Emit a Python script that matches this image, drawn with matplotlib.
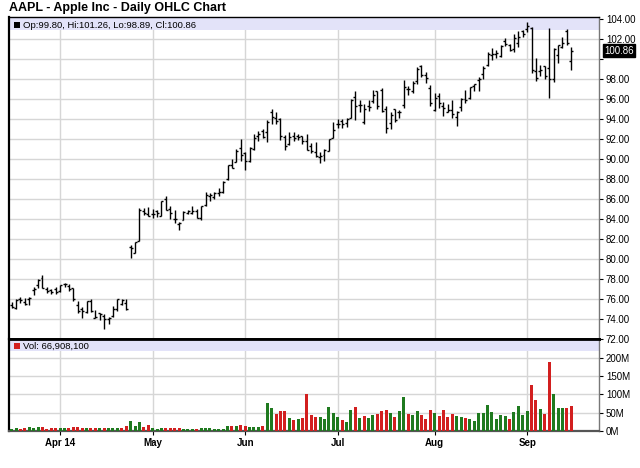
import matplotlib
matplotlib.use('Agg')
import matplotlib.pyplot as plt
from matplotlib.patches import Rectangle
from matplotlib.ticker import FixedLocator, FuncFormatter
import numpy as np
import pandas as pd

plt.rcParams['font.family'] = ['Liberation Sans', 'DejaVu Sans']

####################### Data #######################

# Trading days on the chart (exchange holidays removed)
holidays = ['2014-04-18', '2014-05-26', '2014-07-04', '2014-09-01']
days = pd.bdate_range('2014-03-17', '2014-09-16')
days = days[~days.isin(pd.to_datetime(holidays))]

opens = [75.39, 75.13, 76.04, 75.70, 75.99, 76.92, 77.36, 78.07, 77.00, 76.90, 77.03,
         76.82, 77.48, 77.34, 77.12, 75.43, 75.03, 74.66, 75.81, 74.14, 74.56, 74.32, 74.01, 74.29, 75.05, 75.47, 75.58, 81.17, 80.65, 81.83, 84.82, 84.56,
         84.52, 84.86, 84.31, 85.97, 85.04, 84.06, 83.51, 83.93, 84.57, 84.63, 84.83, 84.09, 85.41, 86.36, 86.26, 86.66, 86.75, 87.98, 89.43, 89.69, 91.14,
         90.57, 89.78, 91.06, 92.31, 92.84, 92.70, 94.73, 94.13, 94.04, 92.20, 91.51, 92.31, 92.27, 92.29, 91.85, 91.32, 90.75, 90.21, 90.37, 90.82, 92.10,
         93.52, 93.87, 93.67, 94.14, 96.27, 95.44, 93.76, 95.36, 95.86, 96.80, 96.97, 95.03, 93.62, 94.99, 94.68, 95.42, 97.04, 96.85, 97.82, 99.33, 98.44, 97.16,
         94.90, 96.37, 95.36, 94.75, 94.93, 94.26, 95.27, 96.04, 96.15, 97.33, 97.90, 98.49, 99.41, 100.44, 100.57, 100.29, 101.79, 101.42, 101.02, 101.59, 102.86,
         103.06, 103.10, 98.85, 98.80, 99.30, 99.08, 98.01, 100.41, 101.21, 102.81, 99.80]

highs = [75.71, 75.98, 76.19, 76.10, 76.25, 77.21, 77.96, 78.43, 77.25, 77.02, 77.20,
         77.41, 77.64, 77.50, 77.14, 75.84, 75.16, 75.78, 76.03, 74.93, 74.59, 74.52, 74.21, 75.35, 76.02, 76.04, 75.97, 81.43, 81.71, 85.11, 85.16, 85.21,
         84.97, 84.91, 85.86, 86.34, 85.33, 84.91, 83.75, 84.81, 84.94, 85.34, 85.05, 85.36, 86.76, 86.63, 86.67, 87.12, 87.82, 89.41, 89.98, 90.98, 92.02,
         90.69, 91.25, 92.56, 92.77, 93.04, 93.88, 95.05, 94.76, 94.12, 92.44, 92.75, 92.70, 92.55, 92.30, 92.55, 91.62, 91.74, 90.70, 91.05, 92.00, 93.73,
         94.07, 94.06, 94.10, 95.99, 96.80, 95.95, 95.55, 95.89, 96.89, 96.85, 97.10, 95.28, 94.74, 95.00, 94.89, 97.88, 97.32, 97.84, 99.24, 99.44, 98.70, 97.45,
         96.62, 96.58, 95.68, 95.48, 95.95, 94.82, 96.08, 96.88, 97.24, 97.57, 98.19, 99.37, 100.68, 101.09, 100.94, 101.47, 102.17, 101.50, 102.57, 102.78, 102.90,
         103.74, 103.20, 100.09, 99.39, 99.31, 103.08, 101.11, 101.44, 102.19, 103.05, 101.26]

lows = [75.12, 75.03, 75.56, 75.38, 75.45, 76.43, 77.08, 77.11, 76.64, 76.55, 76.53,
        76.68, 77.18, 76.81, 75.80, 74.56, 74.10, 74.57, 74.73, 74.13, 73.89, 73.05, 73.55, 74.17, 74.85, 75.43, 74.91, 80.10, 80.57, 81.79, 84.40, 84.27,
        84.11, 84.26, 84.29, 84.92, 84.00, 83.64, 82.90, 83.91, 84.50, 84.53, 84.08, 83.93, 85.33, 85.82, 86.01, 86.30, 86.64, 87.95, 89.11, 89.68, 89.84,
        88.93, 89.75, 90.87, 91.80, 92.07, 91.75, 93.57, 93.47, 91.90, 90.88, 91.45, 91.80, 91.90, 91.55, 90.90, 90.60, 90.19, 89.65, 89.80, 90.77, 92.09,
        93.13, 93.09, 93.20, 94.10, 93.92, 94.76, 93.52, 94.86, 95.65, 95.03, 94.74, 92.57, 93.02, 93.72, 94.12, 95.17, 96.42, 96.64, 97.55, 98.25, 97.67, 95.33,
        94.81, 95.17, 94.36, 94.71, 94.10, 93.28, 94.84, 95.61, 96.04, 96.80, 96.86, 97.98, 99.32, 99.95, 100.11, 100.19, 101.28, 100.86, 100.70, 101.23, 102.20,
        102.72, 98.58, 97.79, 98.31, 98.05, 96.14, 97.76, 99.62, 101.08, 101.44, 98.89]

closes = [75.25, 75.91, 75.89, 75.53, 76.12, 77.03, 77.86, 77.11, 76.78, 76.69, 76.68,
          77.38, 77.51, 76.97, 75.97, 74.78, 74.77, 75.76, 74.78, 74.23, 74.53, 73.99, 74.14, 74.99, 75.96, 75.88, 74.96, 81.11, 81.71, 84.87, 84.62, 84.30,
          84.50, 84.65, 85.85, 84.92, 84.62, 84.00, 83.65, 84.69, 84.82, 84.84, 84.12, 85.36, 86.37, 86.39, 86.62, 86.75, 87.73, 89.38, 89.14, 90.77, 90.43,
          89.81, 91.08, 92.12, 92.48, 92.22, 93.70, 94.25, 93.86, 92.29, 91.28, 92.20, 92.08, 92.18, 91.86, 90.91, 90.83, 90.28, 90.36, 90.90, 91.98, 92.93,
          93.52, 93.48, 94.03, 95.97, 95.35, 95.39, 95.04, 95.22, 96.45, 95.32, 94.78, 93.09, 94.43, 93.94, 94.72, 97.19, 97.03, 97.67, 99.02, 98.38, 98.15, 95.60,
          96.13, 95.59, 95.12, 94.96, 94.48, 94.74, 95.99, 95.97, 97.24, 97.50, 97.98, 99.16, 100.53, 100.57, 100.58, 101.32, 101.54, 100.89, 102.13, 102.25, 102.50,
          103.30, 98.94, 98.12, 98.97, 98.36, 97.99, 101.00, 101.43, 101.66, 101.63, 100.86]

prevClose = 74.96 # close of the day before the first bar

# Volume, millions of shares
volumes = [5.3, 6.7, 5.6, 6.8, 9.4, 8.9, 9.7, 9.1, 6.1, 6.8, 6.4,
           7.2, 7.1, 6.4, 9.6, 10.5, 8.0, 7.6, 8.4, 8.9, 6.8, 8.7, 7.2, 7.7, 6.8, 7.8, 12.1, 27.0, 14.0, 25.3, 11.5, 15.0,
           6.6, 6.2, 7.1, 8.6, 7.3, 7.5, 6.8, 6.0, 5.4, 5.0, 5.5, 8.0, 8.5, 6.9, 5.2, 5.5, 6.0, 12.9, 11.9, 13.5, 14.9,
           13.2, 10.4, 11.3, 10.7, 12.5, 75.4, 62.8, 45.7, 54.7, 54.5, 35.6, 29.7, 33.6, 35.5, 100.9, 43.7, 39.0, 36.9, 32.6, 64.0, 49.6,
           38.2, 28.5, 22.9, 56.5, 65.1, 36.4, 39.7, 34.0, 42.8, 45.5, 53.5, 57.3, 49.0, 39.1, 55.2, 92.9, 45.7, 43.5, 55.3, 43.1, 33.3, 56.8,
           48.5, 39.6, 55.9, 38.6, 46.7, 41.9, 36.6, 33.8, 31.9, 26.9, 48.6, 47.6, 69.6, 52.7, 33.5, 44.2, 40.3, 33.2, 52.4, 68.5, 44.6,
           53.5, 125.4, 85.7, 58.5, 46.4, 189.8, 100.9, 62.4, 62.9, 61.3, 66.9081]

monthLabels = ['Apr 14', 'May', 'Jun', 'Jul', 'Aug', 'Sep']
priceTicks = list(range(72, 105, 2))
volTicks = [0, 50, 100, 150, 200]

####################### Plot #######################

W, H = 640, 468
gridColor = '#d6d6d6'
bandColor = '#e3e3f9'
upColor = '#1f7a1f'
downColor = '#d21f1f'

fig = plt.figure(figsize=(6.4, 4.68), dpi=100)
axP = fig.add_axes([9 / W, 1 - 339 / H, 590 / W, 322 / H])
axV = fig.add_axes([9 / W, 1 - 431 / H, 590 / W, 92 / H], sharex=axP)

xs = np.arange(len(closes))
monthIdx = [i for i in range(1, len(days)) if days[i].month != days[i - 1].month]

# OHLC bars
axP.vlines(xs, lows, highs, color='black', lw=1.0, zorder=3)
axP.hlines(opens, xs - 0.45, xs, color='black', lw=1.0, zorder=3)
axP.hlines(closes, xs, xs + 0.45, color='black', lw=1.0, zorder=3)

# Volume bars, coloured by close vs previous close
prev = [prevClose] + closes[:-1]
barColors = [upColor if c >= p else downColor for c, p in zip(closes, prev)]
axV.bar(xs, volumes, width=0.68, color=barColors, zorder=3)

axP.set_xlim(-0.6, 133.3)
axP.set_ylim(72, 104.23)
axV.set_ylim(-0.6, 252)

# Grids
for ax in (axP, axV):
    ax.set_axisbelow(True)
    ax.grid(True, color=gridColor, lw=1)
    ax.yaxis.tick_right()
    ax.tick_params(axis='y', length=3, pad=2, labelsize=7, width=0.8)
    ax.set_facecolor('white')

axP.xaxis.set_major_locator(FixedLocator(monthIdx))
axP.yaxis.set_major_locator(FixedLocator(priceTicks))
axP.yaxis.set_major_formatter(FuncFormatter(lambda v, p: '' if v == 100 else '%.2f' % v))
axP.tick_params(axis='x', length=0, labelbottom=False)

axV.yaxis.set_major_locator(FixedLocator(volTicks))
axV.yaxis.set_major_formatter(FuncFormatter(lambda v, p: '%dM' % v))
axV.set_xticks(monthIdx)
axV.set_xticklabels(monthLabels, fontsize=7, fontweight='bold')
axV.tick_params(axis='x', length=3, pad=2, width=0.8)

# Frames
axP.spines['left'].set(color='black', lw=1.6)
axP.spines['top'].set(color='black', lw=1)
axP.spines['right'].set(color='#777777', lw=1)
axP.spines['bottom'].set(color='black', lw=2)
axV.spines['left'].set(color='black', lw=1.6)
axV.spines['top'].set(color='black', lw=2)
axV.spines['right'].set(color='#777777', lw=1)
axV.spines['bottom'].set(color='#555555', lw=1.6)

# Legend bands
axP.add_patch(Rectangle((0, 1 - 13 / 322), 1, 13 / 322, transform=axP.transAxes,
                        color=bandColor, zorder=1.5, lw=0))
axV.add_patch(Rectangle((0, 1 - 12 / 92), 1, 11 / 92, transform=axV.transAxes,
                        color=bandColor, zorder=1.5, lw=0))

fig.add_artist(Rectangle((14 / W, 1 - 28 / H), 6 / W, 6 / H, transform=fig.transFigure,
                         fc='black', lw=0))
fig.text(23 / W, 1 - 25 / H, 'Op:%.2f, Hi:%.2f, Lo:%.2f, Cl:%.2f' % (opens[-1], highs[-1], lows[-1], closes[-1]),
         fontsize=6.8, va='center', ha='left')

fig.add_artist(Rectangle((14 / W, 1 - 349 / H), 6 / W, 6 / H, transform=fig.transFigure,
                         fc=downColor if closes[-1] < closes[-2] else upColor, lw=0))
fig.text(23 / W, 1 - 346 / H, 'Vol: {:,}'.format(int(round(volumes[-1] * 1e6))),
         fontsize=6.8, va='center', ha='left')

# Last price box
axP.text(1 + 5 / 590, closes[-1], '%.2f' % closes[-1], transform=axP.get_yaxis_transform(),
         fontsize=7, color='white', va='center', ha='left',
         bbox=dict(boxstyle='square,pad=0.15', fc='black', ec='black'))

# Title
fig.text(9 / W, 1 - 8 / H, 'AAPL - Apple Inc - Daily OHLC Chart', fontsize=9,
         fontweight='bold', va='center', ha='left')

fig.savefig('out.png', dpi=100)
